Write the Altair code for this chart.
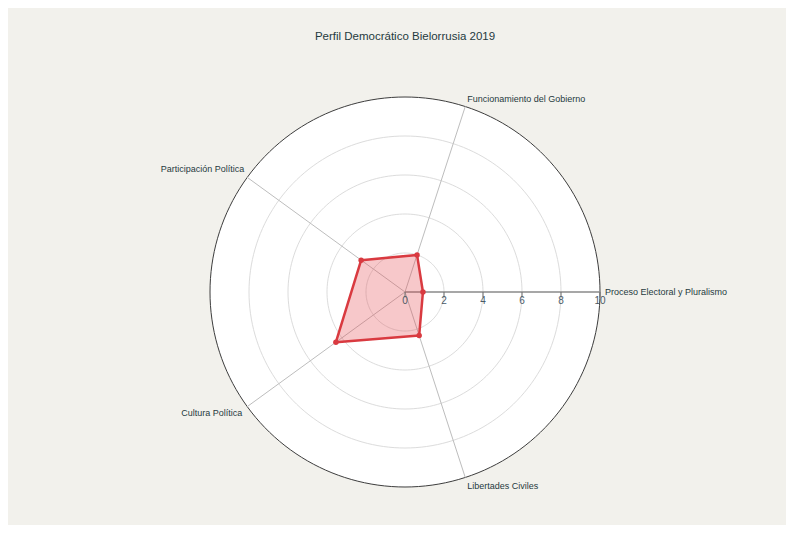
import altair as alt
import numpy as np
import pandas as pd

title_text = "Perfil Democrático Bielorrusia 2019"
categories = [
    "Proceso Electoral y Pluralismo",
    "Funcionamiento del Gobierno",
    "Participación Política",
    "Cultura Política",
    "Libertades Civiles",
]
values = [0.92, 2.00, 2.78, 4.38, 2.35]
grid_levels = [2, 4, 6, 8]
outer_level = 10
tick_values = [0, 2, 4, 6, 8, 10]

# label styles per category (align, baseline, dx, dy)
label_styles = [
    ("left", "middle", 5, 0),
    ("left", "bottom", 2, -3),
    ("right", "bottom", -3, -3),
    ("right", "top", -5, 2),
    ("left", "top", 2, 5),
]

n = len(categories)
cat_angles = [i * 360.0 / n for i in range(n)]

poly = pd.DataFrame({
    "cat": categories + [categories[0]],
    "value": values + [values[0]],
    "ang": cat_angles + [360.0],
    "order": list(range(n + 1)),
})
pts = poly.iloc[:n]

deg = np.arange(0, 361, 2)
grid_df = pd.DataFrame([{"r": r, "ang": float(d)} for r in grid_levels for d in deg])
outer_df = pd.DataFrame([{"r": outer_level, "ang": float(d)} for d in deg])

spoke_df = pd.DataFrame([
    {"cat": c, "ang": a, "r": r} for c, a in zip(categories, cat_angles) for r in (0, outer_level)
])
ticks_df = pd.DataFrame({"t": tick_values})
labels_df = pd.DataFrame({"cat": categories, "ang": cat_angles, "r": [outer_level] * n})

sc = alt.Scale(domain=[-10, 10], nice=False, zero=False)
X = alt.X("x:Q", scale=sc, axis=None)
Y = alt.Y("y:Q", scale=sc, axis=None)

def polar(ch, rfield):
    return ch.transform_calculate(
        x=f"datum.{rfield} * cos(datum.ang * PI / 180)",
        y=f"datum.{rfield} * sin(datum.ang * PI / 180)",
    )

disk = polar(alt.Chart(outer_df), "r").mark_line(
    fill="white", stroke="#3d3d3d", strokeWidth=1
).encode(x=X, y=Y, order="ang:Q")

grid = polar(alt.Chart(grid_df), "r").mark_line(
    stroke="#dcdcdc", strokeWidth=1
).encode(x=X, y=Y, detail="r:N", order="ang:Q")

spokes = polar(alt.Chart(spoke_df), "r").mark_line(
    stroke="#bdbdbd", strokeWidth=1
).encode(x=X, y=Y, detail="cat:N", order="r:Q")

axis_line = polar(alt.Chart(spoke_df[spoke_df["cat"] == categories[0]]), "r").mark_line(
    stroke="#707070", strokeWidth=1
).encode(x=X, y=Y, order="r:Q")

tick_marks = alt.Chart(ticks_df).transform_calculate(y0="0", y1="-0.28").mark_rule(
    stroke="#707070", strokeWidth=1
).encode(
    x=alt.X("t:Q", scale=sc, axis=None),
    y=alt.Y("y0:Q", scale=sc, axis=None),
    y2="y1:Q",
)

tick_labels = alt.Chart(ticks_df).transform_calculate(yl="0").mark_text(
    font="Liberation Sans", fontSize=10, color="#4a5a66", baseline="top", dy=4
).encode(
    x=alt.X("t:Q", scale=sc, axis=None),
    y=alt.Y("yl:Q", scale=sc, axis=None),
    text="t:Q",
)

area = polar(alt.Chart(poly), "value").mark_line(
    fill="#e34a4f", fillOpacity=0.3, stroke="#d93a40", strokeWidth=2.5, strokeJoin="round"
).encode(x=X, y=Y, order="order:Q")

points = polar(alt.Chart(pts), "value").mark_point(
    filled=True, color="#d93a40", size=30, opacity=1
).encode(x=X, y=Y)

label_layers = []
for c, (al, bl, dx, dy) in zip(categories, label_styles):
    label_layers.append(
        polar(alt.Chart(labels_df).transform_filter(alt.datum.cat == c), "r").mark_text(
            font="Liberation Sans", fontSize=9, color="#1f3a40",
            align=al, baseline=bl, dx=dx, dy=dy,
        ).encode(x=X, y=Y, text="cat:N")
    )

chart = alt.layer(
    disk, grid, spokes, axis_line, area, points, tick_marks, tick_labels, *label_layers
).properties(
    width=390,
    height=390,
    padding={"left": 202, "top": 89, "right": 186, "bottom": 38},
    autosize=alt.AutoSizeParams(type="none"),
    background="#f2f1ec",
    title=alt.TitleParams(
        title_text, font="Liberation Sans", fontSize=11.5, fontWeight=500,
        color="#1f3a40", anchor="middle", offset=52,
    ),
).configure_view(stroke=None)

chart.save("out.html", embed_options={"renderer": "svg", "actions": False})
